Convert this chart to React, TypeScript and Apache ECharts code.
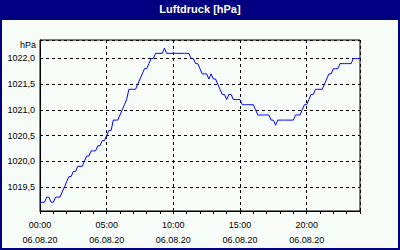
import React, { useEffect, useRef } from 'react';
import * as echarts from 'echarts';

const chartTitle = 'Luftdruck [hPa]';
const unitLabel = 'hPa';
const timeLabels = ['00:00', '05:00', '10:00', '15:00', '20:00'];
const dateLabel = '06.08.20';
const stepMinutes = 10;

// Pressure readings every 10 minutes, 00:00 .. 24:00
const pressure = [
  // 0h
  1019.2, 1019.2, 1019.2, 1019.3, 1019.3, 1019.2,
  // 1h
  1019.2, 1019.3, 1019.3, 1019.3, 1019.4, 1019.5,
  // 2h
  1019.6, 1019.7, 1019.7, 1019.8, 1019.8, 1019.9,
  // 3h
  1019.9, 1019.9, 1020.0, 1020.1, 1020.1, 1020.2,
  // 4h
  1020.2, 1020.2, 1020.3, 1020.3, 1020.4, 1020.4,
  // 5h
  1020.5, 1020.6, 1020.6, 1020.8, 1020.8, 1020.8,
  // 6h
  1020.9, 1021.0, 1021.1, 1021.2, 1021.4, 1021.4,
  // 7h
  1021.4, 1021.4, 1021.5, 1021.6, 1021.7, 1021.8,
  // 8h
  1021.8, 1021.9, 1022.0, 1022.0, 1022.1, 1022.1,
  // 9h
  1022.1, 1022.1, 1022.2, 1022.1, 1022.1, 1022.1,
  // 10h
  1022.1, 1022.1, 1022.1, 1022.1, 1022.1, 1022.1,
  // 11h
  1022.1, 1022.1, 1022.0, 1022.0, 1021.9, 1021.9,
  // 12h
  1021.8, 1021.7, 1021.7, 1021.7, 1021.6, 1021.7,
  // 13h
  1021.6, 1021.6, 1021.5, 1021.4, 1021.3, 1021.3,
  // 14h
  1021.2, 1021.3, 1021.3, 1021.2, 1021.2, 1021.2,
  // 15h
  1021.2, 1021.1, 1021.1, 1021.1, 1021.1, 1021.1,
  // 16h
  1021.1, 1021.0, 1020.9, 1020.9, 1020.9, 1020.9,
  // 17h
  1020.9, 1020.9, 1020.8, 1020.8, 1020.7, 1020.8,
  // 18h
  1020.8, 1020.8, 1020.8, 1020.8, 1020.8, 1020.8,
  // 19h
  1020.8, 1020.9, 1020.9, 1020.9, 1021.0, 1021.1,
  // 20h
  1021.1, 1021.2, 1021.3, 1021.3, 1021.4, 1021.4,
  // 21h
  1021.4, 1021.4, 1021.5, 1021.6, 1021.7, 1021.7,
  // 22h
  1021.8, 1021.8, 1021.8, 1021.9, 1021.9, 1021.9,
  // 23h
  1021.9, 1021.9, 1021.9, 1022.0, 1022.0, 1022.0,
  // 24h
  1022.0,
];

const NAVY = '#000080';
const BG = '#F8FCF8';
const FONT = '"Liberation Sans", Arial, sans-serif';

export default function App() {
  const ref = useRef<HTMLDivElement>(null);

  useEffect(() => {
    const chart = echarts.init(ref.current!, null, { renderer: 'svg' });
    const data = pressure.map((p, i) => [(i * stepMinutes) / 60, p]);
    const dashed = { color: '#000', width: 1, type: [3, 3] as number[] };

    chart.setOption({
      animation: false,
      backgroundColor: BG,
      textStyle: { fontFamily: FONT },
      grid: {
        left: 40,
        top: 40,
        width: 320,
        height: 171,
        show: true,
        borderColor: '#000',
        borderWidth: 1,
        backgroundColor: 'transparent',
      },
      xAxis: [
        {
          type: 'value',
          min: 0,
          max: 24,
          interval: 5,
          axisLine: { show: true, lineStyle: { color: '#000', width: 1 } },
          axisTick: { show: false },
          axisLabel: {
            color: '#000',
            fontFamily: FONT,
            fontSize: 9,
            lineHeight: 15,
            margin: 6,
            formatter: (v: number) => {
              if (v % 5 !== 0 || v >= 24) return '';
              return timeLabels[v / 5] + '\n' + dateLabel;
            },
          },
          splitLine: { show: true, lineStyle: dashed },
        },
        {
          type: 'value',
          min: 0,
          max: 24,
          interval: 1,
          position: 'bottom',
          offset: 0,
          axisLine: { show: false },
          axisTick: { show: true, length: 3, lineStyle: { color: '#000', width: 1 } },
          axisLabel: { show: false },
          splitLine: { show: false },
        },
      ],
      yAxis: {
        type: 'value',
        min: 1019.03,
        max: 1022.36,
        splitNumber: 5,
        axisLine: { show: true, lineStyle: { color: '#000', width: 1 } },
        axisTick: { show: false },
        axisLabel: {
          color: '#000',
          fontFamily: FONT,
          fontSize: 9,
          margin: 5,
          formatter: (v: number) => {
            const r = Math.round(v * 2) / 2;
            if (Math.abs(r - v) > 1e-6) return '';
            return r.toFixed(1).replace('.', ',');
          },
        },
        splitLine: { show: true, lineStyle: dashed },
      },
      series: [
        {
          type: 'line',
          xAxisIndex: 0,
          data,
          symbol: 'none',
          showSymbol: false,
          lineStyle: { color: '#0000FF', width: 1 },
          z: 5,
        },
      ],
      graphic: [
        { type: 'rect', shape: { x: 0, y: 0, width: 400, height: 20 }, style: { fill: NAVY }, silent: true },
        { type: 'rect', shape: { x: 0, y: 0, width: 2, height: 250 }, style: { fill: NAVY }, silent: true },
        { type: 'rect', shape: { x: 398, y: 0, width: 2, height: 250 }, style: { fill: NAVY }, silent: true },
        { type: 'rect', shape: { x: 0, y: 248, width: 400, height: 2 }, style: { fill: NAVY }, silent: true },
        {
          type: 'text',
          x: 200,
          y: 9,
          z: 100,
          style: {
            text: chartTitle,
            fill: '#fff',
            font: 'bold 11px ' + FONT,
            align: 'center',
            verticalAlign: 'middle',
          },
        },
        {
          type: 'text',
          x: 36,
          y: 45,
          z: 100,
          style: {
            text: unitLabel,
            fill: '#000',
            font: '9px ' + FONT,
            align: 'right',
            verticalAlign: 'middle',
          },
        },
      ],
    });

    return () => chart.dispose();
  }, []);

  return (
    <div
      ref={ref}
      style={{ position: 'fixed', left: 0, top: 0, width: 400, height: 250 }}
    />
  );
}
